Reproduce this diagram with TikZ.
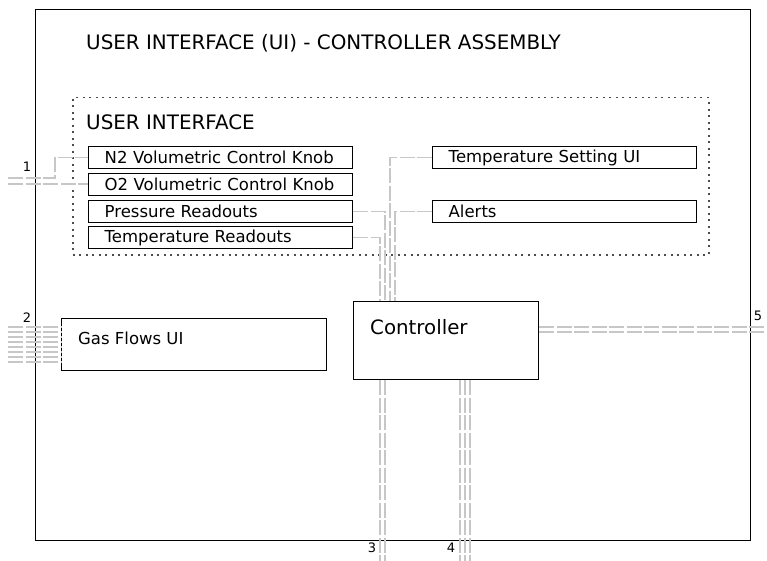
\documentclass[tikz,border=0pt]{standalone}
\usepackage{fontspec}
\setmainfont{DejaVu Sans}
\begin{document}
\begin{tikzpicture}[x=1pt,y=-1pt,
 frame/.style={draw=black,line width=1.4pt,anchor=north west,inner sep=0pt},
 itembox/.style={draw=black,line width=1.4pt,anchor=north west,minimum width=264pt,minimum height=22pt,inner xsep=16pt,inner ysep=0pt,text width=232pt,align=left,font=\fontsize{16.5}{19}\selectfont},
 wire/.style={draw=black!22,line width=1.4pt,dash pattern=on 15pt off 2.5pt},
 num/.style={font=\fontsize{13}{15}\selectfont,inner sep=0pt}]
\useasboundingbox (0,0) rectangle (767,561);
% outer frame
\node[frame,minimum width=715pt,minimum height=531pt] (outer) at (35,9) {};
\node[anchor=west,inner sep=0pt,font=\fontsize{19.9}{23}\selectfont] (title) at (86,43) {USER INTERFACE (UI) - CONTROLLER ASSEMBLY};
% UI group
\node[draw=black!70,dash pattern=on 2pt off 4.5pt,line width=1.5pt,anchor=north west,inner sep=0pt,minimum width=636pt,minimum height=157pt] (ui) at (72,97) {};
\node[anchor=west,inner sep=0pt,font=\fontsize{19.9}{23}\selectfont] (uit) at (86,122) {USER INTERFACE};
\node[itembox] (n2) at (88,146) {N2 Volumetric Control Knob};
\node[itembox] (o2) at (88,173) {O2 Volumetric Control Knob};
\node[itembox] (pr) at (88,200) {Pressure Readouts};
\node[itembox] (tr) at (88,226) {Temperature Readouts};
\node[itembox] (ts) at (432,146) {Temperature Setting UI};
\node[itembox] (al) at (432,200) {Alerts};
% gas flows
\node[frame,minimum width=265pt,minimum height=52pt] (gas) at (61,318) {};
\node[anchor=west,inner sep=0pt,font=\fontsize{16.5}{19}\selectfont] (gast) at (78,338) {Gas Flows UI};
% controller
\node[frame,minimum width=185pt,minimum height=78pt] (ctrl) at (353,301) {};
\node[anchor=west,inner sep=0pt,font=\fontsize{19.8}{23}\selectfont] (ctrlt) at (370,327) {Controller};
% wires: port 1
\coordinate (in1) at (8,178);
\coordinate (in1b) at (8,184);
\draw[wire] (in1) -- (55,178) |- (n2.west);
\draw[wire] (in1b) -- (in1b -| o2.west);
% wires to controller top
\draw[wire] (pr.east) -| ([xshift=32pt]ctrl.north west);
\draw[wire] (tr.east) -| ([xshift=27pt]ctrl.north west);
\draw[wire] (ts.west) -| ([xshift=37pt]ctrl.north west);
\draw[wire] (al.west) -| ([xshift=42pt]ctrl.north west);
% port 2
\foreach \yy in {327,332,...,362}{
  \coordinate (g\yy) at (8,\yy);
  \draw[wire] (g\yy) -- (g\yy -| gas.west);
}
% port 5
\coordinate (p5a) at (767,327);
\coordinate (p5b) at (767,332);
\draw[wire] (p5a -| ctrl.east) -- (p5a);
\draw[wire] (p5b -| ctrl.east) -- (p5b);
% ports 3 and 4
\foreach \xx in {380,385,460,465,470}{
  \coordinate (b\xx) at (\xx,561);
  \draw[wire] (b\xx |- ctrl.south) -- (b\xx);
}
% labels
\node[num] (l1) at (27,167) {1};
\node[num] (l2) at (27,318) {2};
\node[num] (l3) at (372,548) {3};
\node[num] (l4) at (451,548) {4};
\node[num] (l5) at (758,316) {5};
\end{tikzpicture}
\end{document}
